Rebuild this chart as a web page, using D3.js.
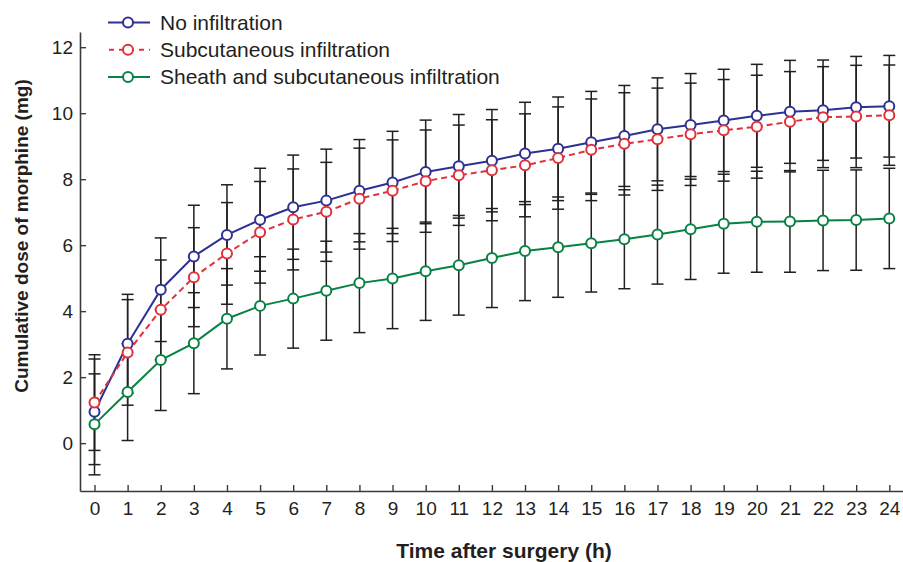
<!DOCTYPE html>
<html>
<head>
<meta charset="utf-8">
<script src="https://cdn.jsdelivr.net/npm/d3@7"></script>
<style>
  body { margin: 0; background: #fff; }
  svg { display: block; }
  text { font-family: "Liberation Sans", Arial, Helvetica, sans-serif; fill: #231f20; }
</style>
</head>
<body>
<svg id="chart" width="903" height="562"></svg>
<script>
// hours after surgery
var hours = [0, 1, 2, 3, 4, 5, 6, 7, 8, 9, 10, 11, 12, 13, 14, 15, 16, 17, 18, 19, 20, 21, 22, 23, 24];

// mean cumulative morphine (mg) and SD
var noInfMean = [0.95, 3.01, 4.65, 5.66, 6.31, 6.77, 7.15, 7.35, 7.65, 7.90, 8.22, 8.39, 8.56, 8.78, 8.92, 9.12, 9.31, 9.51, 9.64, 9.78, 9.92, 10.04, 10.09, 10.18, 10.21];
var noInfSd   = [1.60, 1.50, 1.57, 1.55, 1.52, 1.56, 1.58, 1.56, 1.55, 1.55, 1.57, 1.57, 1.55, 1.55, 1.57, 1.54, 1.53, 1.56, 1.56, 1.55, 1.56, 1.56, 1.52, 1.54, 1.54];

var subMean = [1.23, 2.75, 4.04, 5.03, 5.75, 6.39, 6.78, 7.01, 7.41, 7.65, 7.94, 8.12, 8.27, 8.42, 8.64, 8.89, 9.07, 9.21, 9.36, 9.48, 9.59, 9.74, 9.88, 9.90, 9.94];
var subSd   = [1.45, 1.60, 1.51, 1.50, 1.54, 1.54, 1.53, 1.50, 1.53, 1.54, 1.55, 1.52, 1.53, 1.56, 1.55, 1.54, 1.55, 1.55, 1.55, 1.54, 1.56, 1.52, 1.53, 1.55, 1.52];

var sheathMean = [0.57, 1.55, 2.52, 3.03, 3.77, 4.16, 4.38, 4.62, 4.85, 4.99, 5.21, 5.39, 5.61, 5.82, 5.94, 6.06, 6.18, 6.32, 6.48, 6.65, 6.71, 6.72, 6.75, 6.76, 6.81];
var sheathSd   = [1.53, 1.47, 1.53, 1.53, 1.52, 1.49, 1.50, 1.50, 1.50, 1.52, 1.49, 1.51, 1.50, 1.50, 1.52, 1.48, 1.50, 1.50, 1.52, 1.50, 1.53, 1.54, 1.52, 1.52, 1.52];

var seriesNames = ["No infiltration", "Subcutaneous infiltration", "Sheath and subcutaneous infiltration"];
var yTicks = [0, 2, 4, 6, 8, 10, 12];

var series = [
    {name: seriesNames[0], mean: noInfMean, sd: noInfSd, color: "#2e3192", dash: null},
    {name: seriesNames[1], mean: subMean, sd: subSd, color: "#e0313b", dash: "6,4"},
    {name: seriesNames[2], mean: sheathMean, sd: sheathSd, color: "#078241", dash: null}
];

var svg = d3.select("#chart");
var ink = "#231f20";

var x = d3.scaleLinear().domain([-0.438, 24.414]).range([80, 903]);
var y = d3.scaleLinear().domain([-1.45, 12.46]).range([491, 32]);

// axes
var xAxis = svg.append("g")
    .attr("transform", "translate(0,491)")
    .call(d3.axisBottom(x).tickValues(hours).tickFormat(d3.format("d"))
        .tickSizeInner(-6).tickSizeOuter(0).tickPadding(10.5));
var yAxis = svg.append("g")
    .attr("transform", "translate(80,0)")
    .call(d3.axisLeft(y).tickValues(yTicks).tickFormat(d3.format("d"))
        .tickSizeInner(-6).tickSizeOuter(0).tickPadding(7));
[xAxis, yAxis].forEach(function(a) {
    a.select(".domain").attr("stroke", "#3a3a3a").attr("stroke-width", 1.6);
    a.selectAll(".tick line").attr("stroke", "#3a3a3a").attr("stroke-width", 1.4);
    a.selectAll(".tick text").style("font-size", "19px").attr("fill", ink);
});

// axis titles
svg.append("text")
    .attr("x", 504).attr("y", 558)
    .attr("text-anchor", "middle")
    .style("font-size", "21px").style("font-weight", "bold")
    .text("Time after surgery (h)");
svg.append("text")
    .attr("transform", "translate(28,236) rotate(-90)")
    .attr("text-anchor", "middle")
    .style("font-size", "19px").style("font-weight", "bold")
    .text("Cumulative dose of morphine (mg)");

// error bars (mean +/- SD)
var capW = 6;
var errG = svg.append("g").attr("stroke", ink).attr("stroke-width", 1.5);
series.forEach(function(s) {
    hours.forEach(function(h, i) {
        var hi = y(s.mean[i] + s.sd[i]);
        var lo = y(s.mean[i] - s.sd[i]);
        var cx = x(h);
        errG.append("line").attr("x1", cx).attr("x2", cx).attr("y1", hi).attr("y2", lo);
        errG.append("line").attr("x1", cx - capW).attr("x2", cx + capW).attr("y1", hi).attr("y2", hi);
        errG.append("line").attr("x1", cx - capW).attr("x2", cx + capW).attr("y1", lo).attr("y2", lo);
    });
});

// lines
var line = d3.line()
    .x(function(d) { return x(d[0]); })
    .y(function(d) { return y(d[1]); });
series.forEach(function(s) {
    svg.append("path")
        .datum(hours.map(function(h, i) { return [h, s.mean[i]]; }))
        .attr("fill", "none")
        .attr("stroke", s.color)
        .attr("stroke-width", 2)
        .attr("stroke-dasharray", s.dash)
        .attr("d", line);
});

// markers
series.forEach(function(s) {
    svg.append("g").selectAll("circle")
        .data(hours)
        .enter()
        .append("circle")
        .attr("cx", function(h) { return x(h); })
        .attr("cy", function(h, i) { return y(s.mean[i]); })
        .attr("r", 5)
        .attr("fill", "#fff")
        .attr("stroke", s.color)
        .attr("stroke-width", 2);
});

// legend
var legend = svg.append("g").attr("transform", "translate(108,22.5)");
series.forEach(function(s, i) {
    var row = legend.append("g").attr("transform", "translate(0," + (i * 27.3) + ")");
    row.append("line")
        .attr("x1", 0).attr("x2", 42).attr("y1", 0).attr("y2", 0)
        .attr("stroke", s.color).attr("stroke-width", 2)
        .attr("stroke-dasharray", s.dash ? "5,5" : null)
        .attr("stroke-dashoffset", s.dash ? -1 : null);
    row.append("circle")
        .attr("cx", 20).attr("cy", 0).attr("r", 5)
        .attr("fill", "#fff").attr("stroke", s.color).attr("stroke-width", 2);
    row.append("text")
        .attr("x", 52).attr("y", 7)
        .style("font-size", "21px")
        .text(s.name);
});
</script>
</body>
</html>
